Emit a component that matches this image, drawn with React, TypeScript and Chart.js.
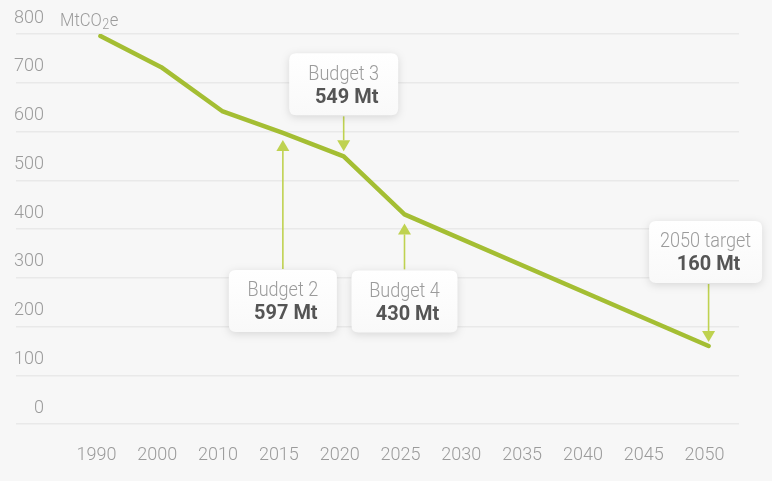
import React, { useEffect, useRef } from "react";
import { Chart, registerables } from "chart.js";

Chart.register(...registerables);

const years = ["1990", "2000", "2010", "2015", "2020", "2025", "2030", "2035", "2040", "2045", "2050"];
const emissions: (number | null)[] = [796, 732, 642, 597, 549, 430, null, null, null, null, 160];
const yTicks = [0, 100, 200, 300, 400, 500, 600, 700, 800];
const unitLabel = ["MtCO", "2", "e"];

const annotationTitles = ["Budget 2", "Budget 3", "Budget 4", "2050 target"];
const annotationValues = ["597 Mt", "549 Mt", "430 Mt", "160 Mt"];
const annotationYears = ["2015", "2020", "2025", "2050"];

// style/layout for each annotation (pixels)
const annStyles = [
  { side: "below", gap: 137, tipGap: 7, width: 108, dx: 0 },
  { side: "above", gap: 41, tipGap: 5, width: 109, dx: 0 },
  { side: "below", gap: 56, tipGap: 9, width: 106, dx: 0 },
  { side: "above", gap: 63, tipGap: 4, width: 113, dx: -3 },
];

const FONT = "Roboto, 'Liberation Sans', sans-serif";
const LINE_GREEN = "#a4be33";
const ARROW_GREEN = "#bfd250";

function roundRect(ctx: CanvasRenderingContext2D, x: number, y: number, w: number, h: number, r: number) {
  ctx.beginPath();
  ctx.moveTo(x + r, y);
  ctx.lineTo(x + w - r, y);
  ctx.quadraticCurveTo(x + w, y, x + w, y + r);
  ctx.lineTo(x + w, y + h - r);
  ctx.quadraticCurveTo(x + w, y + h, x + w - r, y + h);
  ctx.lineTo(x + r, y + h);
  ctx.quadraticCurveTo(x, y + h, x, y + h - r);
  ctx.lineTo(x, y + r);
  ctx.quadraticCurveTo(x, y, x + r, y);
  ctx.closePath();
}

function condensedText(ctx: CanvasRenderingContext2D, text: string, x: number, y: number, sx: number) {
  ctx.save();
  ctx.translate(x, y);
  ctx.scale(sx, 1);
  ctx.fillText(text, 0, 0);
  ctx.restore();
}

const annotationPlugin = {
  id: "budgetAnnotations",
  afterDatasetsDraw(chart: any) {
    const ctx: CanvasRenderingContext2D = chart.ctx;
    const xs = chart.scales.x;
    const ys = chart.scales.y;
    const boxH = 62;
    annotationTitles.forEach((title, i) => {
      const st = annStyles[i];
      const idx = years.indexOf(annotationYears[i]);
      const px = xs.getPixelForValue(idx);
      const py = ys.getPixelForValue(emissions[idx] as number);
      let boxTop: number, tipY: number, lineStart: number;
      if (st.side === "above") {
        boxTop = py - st.gap - boxH;
        tipY = py - st.tipGap;
        lineStart = boxTop + boxH + 1;
      } else {
        boxTop = py + st.gap;
        tipY = py + st.tipGap;
        lineStart = boxTop - 1;
      }
      const cx = px + st.dx;
      const boxLeft = cx - st.width / 2;

      // arrow
      ctx.save();
      ctx.strokeStyle = ARROW_GREEN;
      ctx.fillStyle = ARROW_GREEN;
      ctx.lineWidth = 1.6;
      const dir = st.side === "above" ? 1 : -1; // 1: pointing down
      const headLen = 11;
      ctx.beginPath();
      ctx.moveTo(px, lineStart);
      ctx.lineTo(px, tipY - dir * headLen);
      ctx.stroke();
      ctx.beginPath();
      ctx.moveTo(px, tipY);
      ctx.lineTo(px - 6.5, tipY - dir * headLen);
      ctx.lineTo(px + 6.5, tipY - dir * headLen);
      ctx.closePath();
      ctx.fill();
      ctx.restore();

      // box
      ctx.save();
      ctx.shadowColor = "rgba(0,0,0,0.13)";
      ctx.shadowBlur = 9;
      ctx.shadowOffsetY = 2;
      const grad = ctx.createLinearGradient(0, boxTop, 0, boxTop + boxH);
      grad.addColorStop(0, "#ffffff");
      grad.addColorStop(1, "#f9f9f9");
      ctx.fillStyle = grad;
      roundRect(ctx, boxLeft, boxTop, st.width, boxH, 7);
      ctx.fill();
      ctx.restore();

      // text
      ctx.save();
      ctx.textAlign = "center";
      ctx.textBaseline = "middle";
      ctx.fillStyle = "#9b9b9b";
      ctx.font = `300 21px ${FONT}`;
      condensedText(ctx, title, cx, boxTop + 21, 0.86);
      ctx.fillStyle = "#555555";
      ctx.font = `bold 21px ${FONT}`;
      condensedText(ctx, annotationValues[i], cx + 3, boxTop + 44, 0.95);
      ctx.restore();
    });
  },
};

const unitPlugin = {
  id: "unitLabel",
  afterDraw(chart: any) {
    const ctx: CanvasRenderingContext2D = chart.ctx;
    ctx.save();
    ctx.fillStyle = "#9b9b9b";
    ctx.textBaseline = "alphabetic";
    ctx.textAlign = "left";
    let x = 60;
    const base = 26;
    ctx.font = `300 18.5px ${FONT}`;
    condensedText(ctx, unitLabel[0], x, base, 0.9);
    x += ctx.measureText(unitLabel[0]).width * 0.9 + 0.5;
    ctx.font = `300 14px ${FONT}`;
    condensedText(ctx, unitLabel[1], x, base + 2.5, 0.9);
    x += ctx.measureText(unitLabel[1]).width * 0.9 + 0.5;
    ctx.font = `300 18.5px ${FONT}`;
    condensedText(ctx, unitLabel[2], x, base, 0.9);
    ctx.restore();
  },
};

export default function App() {
  const canvasRef = useRef<HTMLCanvasElement | null>(null);

  useEffect(() => {
    document.body.style.margin = "0";
    document.body.style.background = "#f7f7f7";
    const canvas = canvasRef.current;
    if (!canvas) return;
    const chart = new Chart(canvas, {
      type: "line",
      data: {
        labels: years,
        datasets: [
          {
            data: emissions,
            borderColor: LINE_GREEN,
            borderWidth: 4.5,
            borderCapStyle: "round",
            borderJoinStyle: "round",
            pointRadius: 0,
            spanGaps: true,
            tension: 0,
            fill: false,
          },
        ],
      },
      options: {
        responsive: false,
        animation: false,
        events: [],
        layout: { padding: { top: 34, right: 33, left: 0, bottom: 0 } },
        plugins: {
          legend: { display: false },
          tooltip: { enabled: false },
          title: { display: false },
        },
        scales: {
          x: {
            type: "category",
            offset: true,
            grid: { display: false, drawTicks: false },
            border: { display: false },
            ticks: {
              color: "#9b9b9b",
              font: { family: FONT, size: 18, weight: "300" },
              padding: 21,
              labelOffset: -4,
              maxRotation: 0,
              autoSkip: false,
            },
            afterFit(scale: any) {
              scale.height = 57;
            },
          },
          y: {
            min: 0,
            max: 800,
            afterBuildTicks(scale: any) {
              scale.ticks = yTicks.map((v) => ({ value: v }));
            },
            grid: {
              color: "#e9e9e9",
              lineWidth: 1.5,
              drawTicks: true,
              tickLength: 54,
            },
            border: { display: false },
            ticks: {
              color: "#9b9b9b",
              font: { family: FONT, size: 18, weight: "300" },
              padding: -28,
              labelOffset: -16,
            },
            afterFit(scale: any) {
              scale.width = 70;
            },
          },
        },
      },
      plugins: [annotationPlugin, unitPlugin],
    });
    return () => chart.destroy();
  }, []);

  return (
    <div style={{ width: 772, height: 481, background: "#f7f7f7" }}>
      <canvas ref={canvasRef} width={772} height={481} style={{ display: "block" }} />
    </div>
  );
}
